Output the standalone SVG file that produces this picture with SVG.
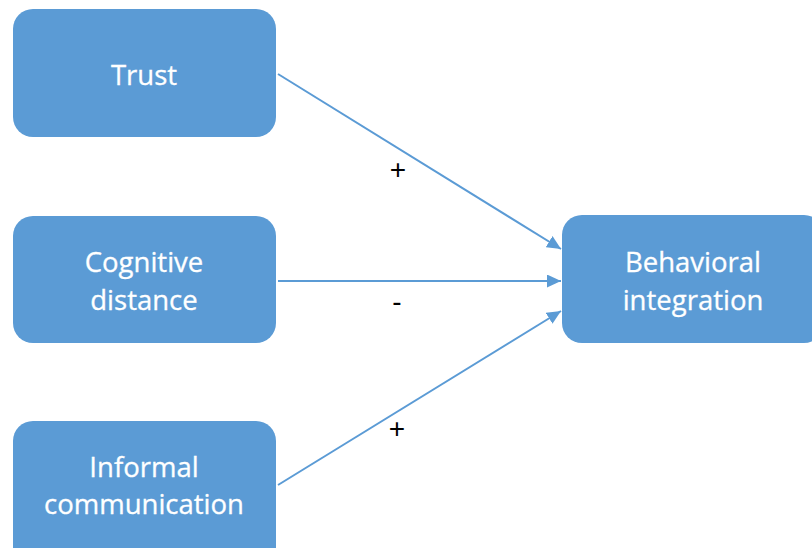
<svg xmlns="http://www.w3.org/2000/svg" width="812" height="548" viewBox="0 0 812 548">
  <style>
    .box { fill: #5B9BD5; }
    .label { fill: #FFFFFF; font-family: "Open Sans", "Liberation Sans", sans-serif; font-size: 27.5px; text-anchor: middle; stroke: #FFFFFF; stroke-width: 0.3; }
    .edge { stroke: #5B9BD5; stroke-width: 2; fill: none; marker-end: url(#arrow); }
    .sign { fill: #000000; font-family: "Liberation Sans", sans-serif; font-size: 28px; text-anchor: middle; }
  </style>
  <defs>
    <marker id="arrow" viewBox="0 0 10 10" refX="10" refY="5" markerWidth="14" markerHeight="13" markerUnits="userSpaceOnUse" orient="auto" preserveAspectRatio="none">
      <path d="M0,0 L10,5 L0,10 z" fill="#5B9BD5"/>
    </marker>
  </defs>
  <rect width="812" height="548" fill="#FFFFFF"/>

  <g id="trust">
    <rect class="box" x="13" y="9" width="263" height="128" rx="20"/>
    <text class="label" x="144" y="85">Trust</text>
  </g>
  <g id="cognitive-distance">
    <rect class="box" x="13" y="216" width="263" height="127" rx="20"/>
    <text class="label" x="144" y="272">Cognitive</text>
    <text class="label" x="144" y="310">distance</text>
  </g>
  <g id="informal-communication">
    <rect class="box" x="13" y="421" width="263" height="147" rx="20"/>
    <text class="label" x="144" y="477">Informal</text>
    <text class="label" x="144" y="514">communication</text>
  </g>
  <g id="behavioral-integration">
    <rect class="box" x="562" y="215" width="262" height="128" rx="20"/>
    <text class="label" x="693" y="272">Behavioral</text>
    <text class="label" x="693" y="310">integration</text>
  </g>

  <g id="connectors">
    <line class="edge" x1="278" y1="74" x2="561" y2="249"/>
    <line class="edge" x1="278" y1="281" x2="561" y2="281"/>
    <line class="edge" x1="278" y1="485" x2="561" y2="311"/>
    <text class="sign" x="398" y="179">+</text>
    <text class="sign" x="397" y="311">-</text>
    <text class="sign" x="397" y="438">+</text>
  </g>
</svg>
